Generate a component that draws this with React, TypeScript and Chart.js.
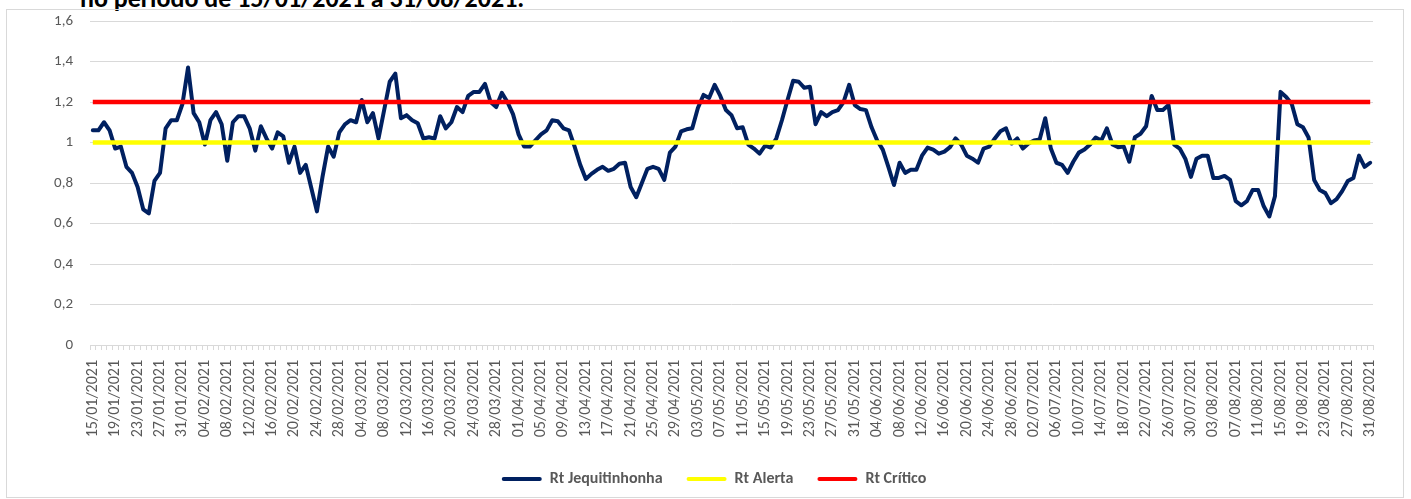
import React, { useEffect, useRef } from 'react';
import { Chart, registerables } from 'chart.js';

Chart.register(...registerables);

// Daily categories 15/01/2021 .. 31/08/2021
const MONTH_SPANS: [string, number, number][] = [
  ['01', 15, 31],
  ['02', 1, 28],
  ['03', 1, 31],
  ['04', 1, 30],
  ['05', 1, 31],
  ['06', 1, 30],
  ['07', 1, 31],
  ['08', 1, 31],
];
const DATES: string[] = [];
for (const [m, a, b] of MONTH_SPANS) {
  for (let d = a; d <= b; d++) DATES.push(`${String(d).padStart(2, '0')}/${m}/2021`);
}

const RT_JEQUITINHONHA = [
  1.06, 1.06, 1.10, 1.06, 0.97, 0.98, 0.88, 0.85, 0.78, 0.67,
  0.65, 0.81, 0.85, 1.07, 1.11, 1.11, 1.19, 1.37, 1.145, 1.10,
  0.99, 1.11, 1.15, 1.09, 0.91, 1.10, 1.13, 1.13, 1.07, 0.96,
  1.08, 1.02, 0.97, 1.05, 1.03, 0.90, 0.98, 0.85, 0.89, 0.775,
  0.66, 0.83, 0.98, 0.93, 1.05, 1.09, 1.11, 1.10, 1.21, 1.10,
  1.145, 1.02, 1.16, 1.30, 1.34, 1.12, 1.135, 1.11, 1.095, 1.02,
  1.026, 1.02, 1.13, 1.07, 1.10, 1.175, 1.15, 1.23, 1.25, 1.25,
  1.29, 1.20, 1.175, 1.245, 1.20, 1.14, 1.04, 0.98, 0.98, 1.01,
  1.04, 1.06, 1.11, 1.105, 1.07, 1.06, 0.98, 0.89, 0.82, 0.845,
  0.865, 0.88, 0.86, 0.87, 0.895, 0.90, 0.78, 0.73, 0.80, 0.87,
  0.88, 0.87, 0.815, 0.95, 0.98, 1.055, 1.065, 1.07, 1.17, 1.235,
  1.22, 1.285, 1.23, 1.16, 1.135, 1.07, 1.075, 0.99, 0.97, 0.945,
  0.985, 0.975, 1.02, 1.11, 1.21, 1.305, 1.30, 1.27, 1.275, 1.09,
  1.15, 1.13, 1.15, 1.16, 1.20, 1.285, 1.185, 1.165, 1.16, 1.075,
  1.01, 0.965, 0.88, 0.79, 0.90, 0.85, 0.865, 0.865, 0.935, 0.975,
  0.965, 0.945, 0.955, 0.977, 1.02, 0.99, 0.935, 0.92, 0.90, 0.97,
  0.98, 1.02, 1.055, 1.07, 0.995, 1.02, 0.97, 0.995, 1.01, 1.015,
  1.12, 0.97, 0.90, 0.89, 0.85, 0.905, 0.95, 0.965, 0.99, 1.025,
  1.01, 1.07, 0.99, 0.977, 0.98, 0.905, 1.026, 1.043, 1.08, 1.23,
  1.16, 1.16, 1.185, 0.99, 0.97, 0.92, 0.83, 0.92, 0.935, 0.935,
  0.825, 0.825, 0.835, 0.815, 0.71, 0.69, 0.71, 0.765, 0.765, 0.685,
  0.635, 0.735, 1.25, 1.225, 1.19, 1.09, 1.075, 1.025, 0.815, 0.765,
  0.75, 0.70, 0.72, 0.76, 0.81, 0.825, 0.935, 0.88, 0.90,
];

const RT_ALERTA_LEVEL = 1.0;
const RT_CRITICO_LEVEL = 1.2;
const RT_ALERTA = DATES.map(() => RT_ALERTA_LEVEL);
const RT_CRITICO = DATES.map(() => RT_CRITICO_LEVEL);

const SERIES_NAMES = ['Rt Jequitinhonha', 'Rt Alerta', 'Rt Crítico'];
const Y_MIN = 0;
const Y_MAX = 1.6;
const Y_STEP = 0.2;
const LABEL_EVERY = 4;

const FONT = "Carlito, Calibri, 'Liberation Sans', Arial, sans-serif";
const GRAY = '#595959';
const GRID = '#d9d9d9';

const legendShift = {
  id: 'legendShift',
  afterLayout(chart: any) {
    const l = chart.legend;
    if (l) {
      l.left += 24;
      l.right += 24;
      l.top += 2;
      l.bottom += 2;
    }
  },
};

export default function App() {
  const ref = useRef<HTMLCanvasElement | null>(null);

  useEffect(() => {
    if (!ref.current) return;
    const chart = new Chart(ref.current, {
      type: 'line',
      data: {
        labels: DATES,
        datasets: [
          {
            label: SERIES_NAMES[0],
            data: RT_JEQUITINHONHA,
            borderColor: '#002060',
            backgroundColor: '#002060',
            borderWidth: 4,
            pointRadius: 0,
            pointHoverRadius: 0,
            tension: 0,
            borderJoinStyle: 'round',
            borderCapStyle: 'round',
            order: 3,
          },
          {
            label: SERIES_NAMES[1],
            data: RT_ALERTA,
            borderColor: '#ffff00',
            backgroundColor: '#ffff00',
            borderWidth: 4.5,
            pointRadius: 0,
            pointHoverRadius: 0,
            tension: 0,
            order: 2,
          },
          {
            label: SERIES_NAMES[2],
            data: RT_CRITICO,
            borderColor: '#ff0000',
            backgroundColor: '#ff0000',
            borderWidth: 4.5,
            pointRadius: 0,
            pointHoverRadius: 0,
            tension: 0,
            order: 1,
          },
        ],
      },
      options: {
        animation: false,
        responsive: false,
        maintainAspectRatio: false,
        layout: { padding: { top: 11, right: 31, left: 0, bottom: 0 } },
        plugins: {
          title: { display: false },
          tooltip: { enabled: false },
          legend: {
            display: true,
            position: 'bottom',
            labels: {
              boxWidth: 40,
              boxHeight: 4,
              padding: 24,
              color: GRAY,
              font: { family: FONT, size: 16, weight: 'bold' },
              sort: (a: any, b: any) => a.datasetIndex - b.datasetIndex,
              generateLabels: (c: any) =>
                Chart.defaults.plugins.legend.labels
                  .generateLabels(c)
                  .map((it: any) => ({ ...it, lineWidth: 0, fillStyle: it.strokeStyle, borderRadius: 2 })),
            },
          },
        },
        scales: {
          x: {
            type: 'category',
            offset: true,
            grid: {
              display: true,
              drawOnChartArea: false,
              drawTicks: true,
              tickLength: 5,
              offset: true,
              color: GRID,
            },
            border: { display: true, color: GRID, width: 1 },
            ticks: {
              autoSkip: false,
              minRotation: 90,
              maxRotation: 90,
              padding: 10,
              color: GRAY,
              font: { family: FONT, size: 16 },
              callback: (_v: any, i: number) => (i % LABEL_EVERY === 0 ? DATES[i] : ''),
            },
            afterFit: (s: any) => {
              s.height = 100;
            },
          },
          y: {
            min: Y_MIN,
            max: Y_MAX,
            grid: { color: GRID, drawTicks: true, tickLength: 17, tickColor: 'rgba(0,0,0,0)', lineWidth: 1 },
            border: { display: false },
            ticks: {
              stepSize: Y_STEP,
              padding: 0,
              color: GRAY,
              font: { family: FONT, size: 15 },
              callback: (v: any) => String(Number(Number(v).toFixed(1))).replace('.', ','),
            },
            afterFit: (s: any) => {
              s.width = 83;
            },
          },
        },
      },
      plugins: [legendShift],
    });
    return () => chart.destroy();
  }, []);

  return (
    <div style={{ position: 'absolute', left: 0, top: 0, width: 1411, height: 499, overflow: 'hidden', background: '#fff' }}>
      <div
        style={{
          position: 'absolute',
          left: 80,
          top: -15,
          fontFamily: FONT,
          fontWeight: 'bold',
          fontSize: 26,
          lineHeight: '26px',
          color: '#000',
          whiteSpace: 'nowrap',
        }}
      >
        no período de 15/01/2021 a 31/08/2021.
      </div>
      <div
        style={{
          position: 'absolute',
          left: 6,
          top: 9,
          width: 1398,
          height: 489,
          border: '1px solid #d9d9d9',
          boxSizing: 'border-box',
        }}
      />
      <canvas ref={ref} width={1397} height={485} style={{ position: 'absolute', left: 7, top: 10, width: 1397, height: 485 }} />
    </div>
  );
}
